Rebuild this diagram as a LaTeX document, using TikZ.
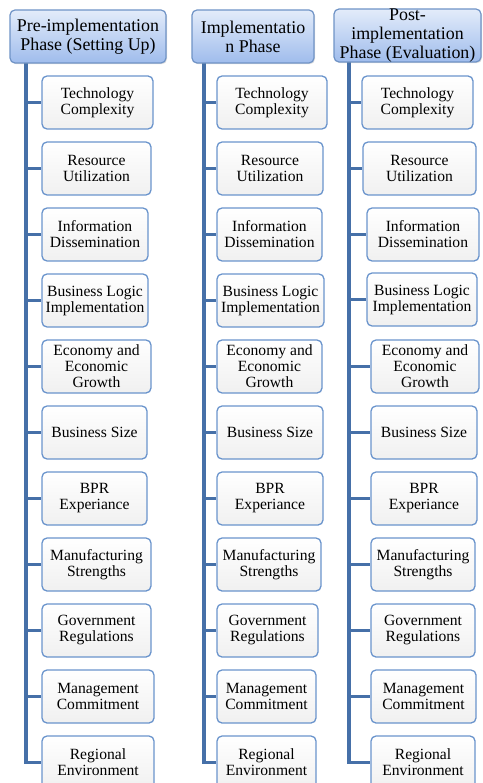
\documentclass[tikz,border=0pt]{standalone}
\usepackage{fontspec}
\setmainfont{Liberation Serif}
\newfontfamily\tnr{Liberation Serif}
\usetikzlibrary{shadows,backgrounds}
\definecolor{hdrtop}{HTML}{E3ECFA}
\definecolor{hdrbot}{HTML}{9FBCEC}
\definecolor{hdrline}{HTML}{6F93C6}
\definecolor{kidline}{HTML}{6A94CC}
\definecolor{kidbot}{HTML}{F0F0F0}
\definecolor{linkblue}{HTML}{4670A8}
\newcommand\kidfont{\tnr\fontsize{15.6pt}{16pt}\selectfont}
\newcommand\hdrfont{\tnr\fontsize{17.9pt}{19pt}\selectfont}
\tikzset{
  hdrbox/.style={draw=hdrline, line width=1.2pt, rounded corners=5pt, top color=hdrtop, bottom color=hdrbot,
    minimum height=53pt, inner sep=0pt, drop shadow={opacity=0.25, shadow xshift=1pt, shadow yshift=-1.2pt}},
  hdrtext/.style={align=center, inner sep=0pt, font=\hdrfont, text=black},
  kid/.style={draw=kidline, line width=1.3pt, rounded corners=5pt, top color=white, bottom color=kidbot,
    minimum height=53pt, inner sep=0pt, align=center, font=\kidfont, text=black},
  link/.style={draw=linkblue, line width=3.5pt}
}
\newcommand\kidnode[5]{% name, x1, x2, cy, text
  \pgfmathsetmacro\kw{#3-#2}%
  \pgfmathsetmacro\kx{(#2+#3)/2}%
  \node[kid, minimum width=\kw pt] (#1) at (\kx,#4) {#5};}
\begin{document}
\begin{tikzpicture}[x=1pt,y=-1pt]
\useasboundingbox (0,0) rectangle (482,783);

\coordinate (t1) at (26,63);
\coordinate (t2) at (204,63);
\coordinate (t3) at (349,62);

% headers
\node[hdrbox, minimum width=156pt] (h1) at (88,36.5) {};
\node[hdrtext] (h1t) at (h1) {Pre-implementation\\Phase (Setting Up)};
\node[hdrbox, minimum width=122pt] (h2) at (253,36.5) {};
\node[hdrtext] (h2t) at (h2) {Implementatio\\n Phase};
\node[hdrbox, minimum width=147pt] (h3) at (407.5,35.5) {};
\node[hdrtext] (h3t) at (407.5,36) {Post-\\implementation\\Phase (Evaluation)};

% column 1
\kidnode{a1}{42}{153}{102.5}{Technology\\Complexity}
\kidnode{a2}{42}{151}{168.5}{Resource\\Utilization}
\kidnode{a3}{42}{148}{234.5}{Information\\Dissemination}
\kidnode{a4}{42}{148}{300.5}{Business Logic\\Implementation}
\kidnode{a5}{42}{151}{366.5}{Economy and\\Economic\\Growth}
\kidnode{a6}{42}{147}{432.5}{Business Size}
\kidnode{a7}{42}{147}{498.5}{BPR\\Experiance}
\kidnode{a8}{42}{151}{564.5}{Manufacturing\\Strengths}
\kidnode{a9}{42}{151}{630.5}{Government\\Regulations}
\kidnode{a10}{42}{154}{696.5}{Management\\Commitment}
\kidnode{a11}{42}{154}{762.5}{Regional\\Environment}

% column 2
\kidnode{b1}{217}{327}{102.5}{Technology\\Complexity}
\kidnode{b2}{217}{323}{168.5}{Resource\\Utilization}
\kidnode{b3}{217}{322}{234.5}{Information\\Dissemination}
\kidnode{b4}{217}{324}{300.5}{Business Logic\\Implementation}
\kidnode{b5}{217}{322}{366.5}{Economy and\\Economic\\Growth}
\kidnode{b6}{217}{323}{432.5}{Business Size}
\kidnode{b7}{217}{323}{498.5}{BPR\\Experiance}
\kidnode{b8}{217}{321}{564.5}{Manufacturing\\Strengths}
\kidnode{b9}{217}{318}{630.5}{Government\\Regulations}
\kidnode{b10}{217}{316}{696.5}{Management\\Commitment}
\kidnode{b11}{217}{316}{762.5}{Regional\\Environment}

% column 3
\kidnode{c1}{362}{473}{102.5}{Technology\\Complexity}
\kidnode{c2}{363}{476}{168.5}{Resource\\Utilization}
\kidnode{c3}{367}{479}{234.5}{Information\\Dissemination}
\kidnode{c4}{367}{477}{299.5}{Business Logic\\Implementation}
\kidnode{c5}{371}{479}{366.5}{Economy and\\Economic\\Growth}
\kidnode{c6}{371}{477}{432.5}{Business Size}
\kidnode{c7}{371}{477}{498.5}{BPR\\Experiance}
\kidnode{c8}{371}{475}{564.5}{Manufacturing\\Strengths}
\kidnode{c9}{371}{475}{630.5}{Government\\Regulations}
\kidnode{c10}{371}{476}{696.5}{Management\\Commitment}
\kidnode{c11}{371}{475}{762.5}{Regional\\Environment}

% connectors, under the boxes
\begin{scope}[on background layer]
\draw[link, line join=miter] (t1) |- (a11.west);
\draw[link, line join=miter] (t2) |- (b11.west);
\draw[link, line join=miter] (t3) |- (c11.west);
\foreach \i in {1,...,10} {
  \draw[link] (t1 |- a\i.west) -- (a\i.west);
  \draw[link] (t2 |- b\i.west) -- (b\i.west);
  \draw[link] (t3 |- c\i.west) -- (c\i.west);
}
\end{scope}
\end{tikzpicture}
\end{document}
